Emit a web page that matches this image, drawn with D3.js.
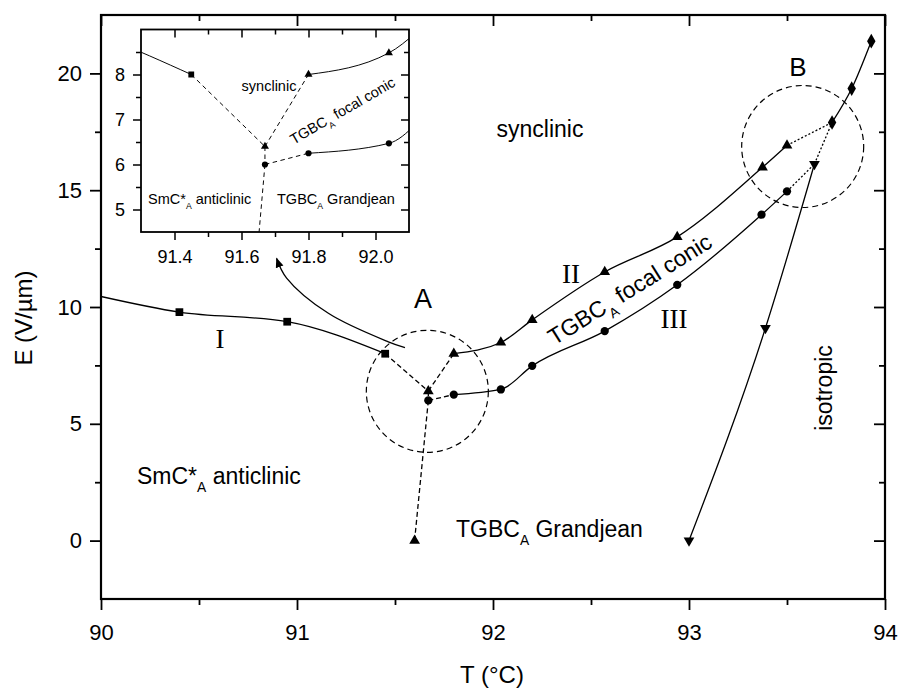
<!DOCTYPE html>
<html>
<head>
<meta charset="utf-8">
<script src="https://cdn.jsdelivr.net/npm/d3@7"></script>
<style>
    body { margin: 0; background: #fff; }
    svg text { font-family: "Liberation Sans", Arial, Helvetica, sans-serif; fill: #000; }
    svg .roman { font-family: "Liberation Serif", "Times New Roman", serif; }
</style>
</head>
<body>
<div id="chart"></div>
<script>
// ---- data (T in °C, E in V/µm) ----
const lineIStart = [90.0, 10.45];
const squaresI = [[90.40, 9.78], [90.95, 9.37], [91.45, 8.0]];
const trianglesII = [[91.80, 8.0], [92.04, 8.48], [92.20, 9.45], [92.57, 11.5], [92.94, 13.0], [93.375, 15.98], [93.50, 16.92]];
const circlesIII = [[91.80, 6.25], [92.04, 6.47], [92.20, 7.48], [92.57, 8.97], [92.94, 10.95], [93.37, 13.95], [93.50, 14.95]];
const diamondsIso = [[93.73, 17.9], [93.83, 19.35], [93.93, 21.38]];
const invTrianglesIso = [[93.0, 0.0], [93.39, 9.1], [93.64, 16.12]];
const triangleA = [91.67, 6.4];
const circleA = [91.67, 6.0];
const triangleZero = [91.60, 0.0];

// dashed links around the triple point A, dotted ones around B
const dashedA = [
    [squaresI[2], triangleA],
    [triangleA, trianglesII[0]],
    [triangleA, circleA],
    [circleA, circlesIII[0]],
    [circleA, triangleZero]
];
const dottedB = [
    [trianglesII[6], diamondsIso[0]],
    [circlesIII[6], invTrianglesIso[2]],
    [invTrianglesIso[2], diamondsIso[0]]
];

// annotation circles and the arrow from A to the inset
const ringCenters = [{ name: 'A', c: [91.665, 6.39] }, { name: 'B', c: [93.58, 16.87] }];
const arrowPath = [[91.551, 8.26], [91.466, 8.51], [91.16, 9.73], [90.947, 11.24], [90.896, 12.08]];

// ticks
const mainXTicks = [90, 91, 92, 93, 94];
const mainXMinor = [90.5, 91.5, 92.5, 93.5];
const mainYTicks = [0, 5, 10, 15, 20];
const mainYMinor = [2.5, 7.5, 12.5, 17.5];
const insetXTicks = [91.4, 91.6, 91.8, 92.0];
const insetXMinor = [91.5, 91.7, 91.9];
const insetYTicks = [5, 6, 7, 8];
const insetYMinor = [5.5, 6.5, 7.5, 8.5];

const W = 898, H = 688;
const svg = d3.select('#chart').append('svg')
    .attr('width', W).attr('height', H)
    .style('background', '#fff');

svg.append('defs').append('marker')
    .attr('id', 'arrowHead')
    .attr('viewBox', '0 0 10 10')
    .attr('refX', 9).attr('refY', 5)
    .attr('markerWidth', 10).attr('markerHeight', 10)
    .attr('markerUnits', 'userSpaceOnUse')
    .attr('orient', 'auto')
    .append('path').attr('d', 'M0,1 L10,5 L0,9 Z').attr('fill', '#000');

const x = d3.scaleLinear().domain([90, 94]).range([101, 885]);
const y = d3.scaleLinear().domain([-2.5, 22.5]).range([599, 15]);

const xi = d3.scaleLinear().domain([91.3, 92.1]).range([141, 409]);
const yi = d3.scaleLinear().domain([4.5, 9.0]).range([232, 29.5]);

function drawFrame(g, xs, ys, o) {
    const [x0, x1] = xs.range();
    const [y0, y1] = ys.range();
    const axes = [
        { axis: d3.axisBottom(xs), t: `translate(0,${y0})`, vals: o.xTicks, minor: o.xMinor, sign: 1, label: true },
        { axis: d3.axisTop(xs), t: `translate(0,${y1})`, vals: o.xTicks, minor: o.xMinor, sign: -1, label: false },
        { axis: d3.axisLeft(ys), t: `translate(${x0},0)`, vals: o.yTicks, minor: o.yMinor, sign: 1, label: true },
        { axis: d3.axisRight(ys), t: `translate(${x1},0)`, vals: o.yTicks, minor: o.yMinor, sign: -1, label: false }
    ];
    axes.forEach((a, i) => {
        const isX = i < 2;
        const ga = g.append('g').attr('transform', a.t)
            .call(a.axis.tickValues(a.vals).tickSize(a.sign * o.major)
                .tickPadding(isX ? o.xPad : o.yPad)
                .tickFormat(a.label ? (isX ? o.xFmt : o.yFmt) : ''));
        ga.select('.domain').remove();
        ga.selectAll('.tick line').attr('stroke', '#000').attr('stroke-width', o.tickW);
        ga.selectAll('.tick text').attr('font-size', o.font).attr('fill', '#000');
        const gm = g.append('g').attr('transform', a.t)
            .call(a.axis.tickValues(a.minor).tickSize(a.sign * o.minorLen).tickFormat(''));
        gm.select('.domain').remove();
        gm.selectAll('.tick line').attr('stroke', '#000').attr('stroke-width', o.tickW);
    });
    g.append('rect')
        .attr('x', x0).attr('y', y1)
        .attr('width', x1 - x0).attr('height', y0 - y1)
        .attr('fill', 'none').attr('stroke', '#000').attr('stroke-width', o.frameW);
}

function drawData(g, xs, ys, k, dash) {
    const curve = d3.line().x(d => xs(d[0])).y(d => ys(d[1])).curve(d3.curveMonotoneX);
    const straight = d3.line().x(d => xs(d[0])).y(d => ys(d[1]));
    const lw = 1.3 * k;

    [[lineIStart, ...squaresI], trianglesII, circlesIII, diamondsIso, invTrianglesIso].forEach(pts => {
        g.append('path').attr('d', curve(pts))
            .attr('fill', 'none').attr('stroke', '#000').attr('stroke-width', lw);
    });
    dashedA.forEach(seg => {
        g.append('path').attr('d', straight(seg))
            .attr('fill', 'none').attr('stroke', '#000').attr('stroke-width', lw)
            .attr('stroke-dasharray', dash);
    });
    dottedB.forEach(seg => {
        g.append('path').attr('d', straight(seg))
            .attr('fill', 'none').attr('stroke', '#000').attr('stroke-width', lw)
            .attr('stroke-dasharray', '2,2');
    });

    const sets = [
        { pts: squaresI, type: d3.symbolSquare, size: 60 },
        { pts: [...trianglesII, triangleA, triangleZero], type: d3.symbolTriangle, size: 50 },
        { pts: [...circlesIII, circleA], type: d3.symbolCircle, size: 54 },
        { pts: diamondsIso, type: d3.symbolDiamond, size: 62 },
        { pts: invTrianglesIso, type: d3.symbolTriangle, size: 50, flip: true }
    ];
    sets.forEach(s => {
        const shape = d3.symbol().type(s.type).size(s.size * k * k)();
        g.selectAll(null).data(s.pts).join('path')
            .attr('transform', d => `translate(${xs(d[0])},${ys(d[1])})${s.flip ? ' rotate(180)' : ''}`)
            .attr('d', shape)
            .attr('fill', '#000');
    });
}

// subscript helper: parts = [[text, isSub], ...]
function richText(g, parts, fs, attrs) {
    const t = g.append('text').attr('font-size', fs);
    Object.entries(attrs).forEach(([k, v]) => t.attr(k, v));
    let down = false;
    parts.forEach(([s, sub]) => {
        const sp = t.append('tspan').text(s);
        if (sub && !down) { sp.attr('font-size', fs * 0.6).attr('dy', fs * 0.35); down = true; }
        else if (!sub && down) { sp.attr('dy', -fs * 0.35); down = false; }
    });
    return t;
}

// ---- main plot ----
const main = svg.append('g');
svg.append('clipPath').attr('id', 'mainClip').append('rect')
    .attr('x', 101).attr('y', 15).attr('width', 784).attr('height', 584);
const mainData = main.append('g').attr('clip-path', 'url(#mainClip)');
drawData(mainData, x, y, 1, '5,3');

ringCenters.forEach(r => {
    main.append('circle')
        .attr('cx', x(r.c[0])).attr('cy', y(r.c[1])).attr('r', 61)
        .attr('fill', 'none').attr('stroke', '#000').attr('stroke-width', 1.2)
        .attr('stroke-dasharray', '6,4');
});

main.append('path')
    .attr('d', d3.line().x(d => x(d[0])).y(d => y(d[1])).curve(d3.curveCatmullRom.alpha(0.5))(arrowPath))
    .attr('fill', 'none').attr('stroke', '#000').attr('stroke-width', 1.3)
    .attr('marker-end', 'url(#arrowHead)');

drawFrame(main, x, y, {
    xTicks: mainXTicks, xMinor: mainXMinor, yTicks: mainYTicks, yMinor: mainYMinor,
    major: 11, minorLen: 6, xPad: 14, yPad: 8, font: 22, tickW: 1.8, frameW: 2.2,
    xFmt: d3.format('d'), yFmt: d3.format('d')
});

// axis titles
main.append('text').attr('x', 492).attr('y', 683).attr('text-anchor', 'middle')
    .attr('font-size', 24).text('T (°C)');
main.append('text').attr('transform', 'translate(32,318) rotate(-90)').attr('text-anchor', 'middle')
    .attr('font-size', 24).text('E (V/µm)');

// region labels
main.append('text').attr('x', 540).attr('y', 137).attr('text-anchor', 'middle').attr('font-size', 23).text('synclinic');
richText(main, [['SmC*'], ['A', true], [' anticlinic']], 23, { x: 137, y: 484 });
richText(main, [['TGBC'], ['A', true], [' Grandjean']], 23, { x: 456, y: 537 });
richText(main, [['TGBC'], ['A', true], [' focal conic']], 23,
    { transform: 'translate(634,296) rotate(-32)', 'text-anchor': 'middle' });
main.append('text').attr('transform', 'translate(832,388) rotate(-90)').attr('text-anchor', 'middle')
    .attr('font-size', 23).text('isotropic');
main.append('text').attr('x', 423).attr('y', 308).attr('text-anchor', 'middle').attr('font-size', 27).text('A');
main.append('text').attr('x', 798).attr('y', 76).attr('text-anchor', 'middle').attr('font-size', 26).text('B');
main.append('text').attr('class', 'roman').attr('x', 220).attr('y', 348).attr('text-anchor', 'middle').attr('font-size', 27).text('I');
main.append('text').attr('class', 'roman').attr('x', 571).attr('y', 283).attr('text-anchor', 'middle').attr('font-size', 27).text('II');
main.append('text').attr('class', 'roman').attr('x', 674).attr('y', 328).attr('text-anchor', 'middle').attr('font-size', 27).text('III');

// ---- inset (zoom on point A) ----
const inset = svg.append('g');
inset.append('rect').attr('x', 141).attr('y', 29.5).attr('width', 268).attr('height', 202.5).attr('fill', '#fff');
svg.append('clipPath').attr('id', 'insetClip').append('rect')
    .attr('x', 141).attr('y', 29.5).attr('width', 268).attr('height', 202.5);
const insetData = inset.append('g').attr('clip-path', 'url(#insetClip)');
drawData(insetData, xi, yi, 0.75, '4.5,3.5');

drawFrame(inset, xi, yi, {
    xTicks: insetXTicks, xMinor: insetXMinor, yTicks: insetYTicks, yMinor: insetYMinor,
    major: 8, minorLen: 5, xPad: 10, yPad: 8, font: 18, tickW: 1.5, frameW: 1.8,
    xFmt: d3.format('.1f'), yFmt: d3.format('d')
});

inset.append('text').attr('x', 269).attr('y', 91).attr('text-anchor', 'middle').attr('font-size', 14.5).text('synclinic');
richText(inset, [['SmC*'], ['A', true], [' anticlinic']], 14.5, { x: 148, y: 204 });
richText(inset, [['TGBC'], ['A', true], [' Grandjean']], 14.5, { x: 277, y: 204 });
richText(inset, [['TGBC'], ['A', true], [' focal conic']], 14.5,
    { transform: 'translate(345,115) rotate(-30)', 'text-anchor': 'middle' });
</script>
</body>
</html>
